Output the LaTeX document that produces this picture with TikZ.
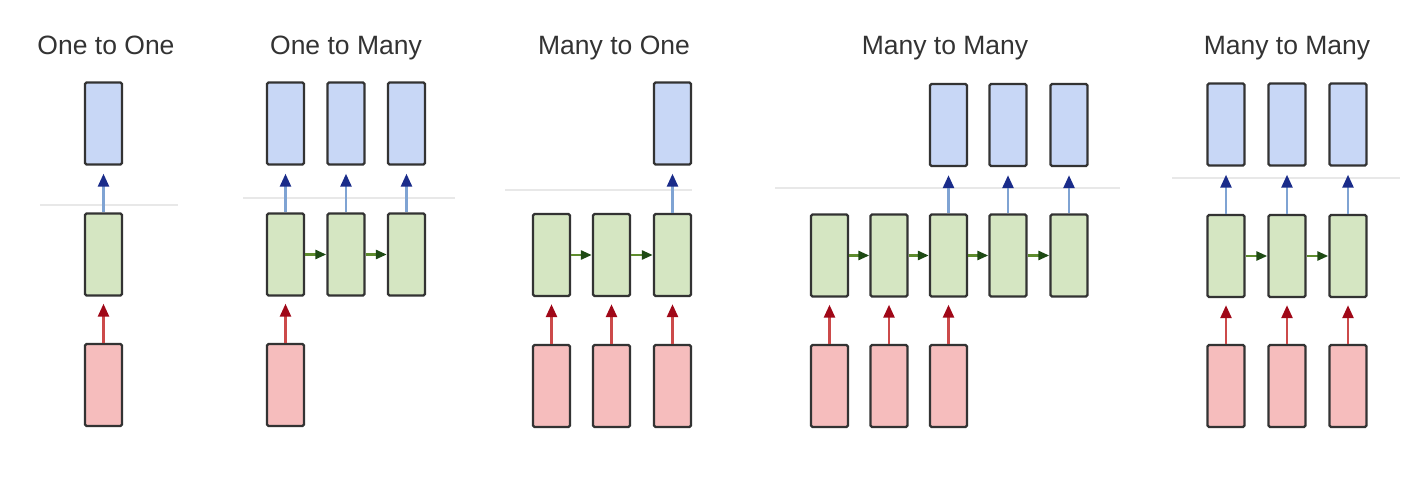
\documentclass[tikz,border=0pt]{standalone}
\usepackage{fontspec}
\setmainfont{Liberation Sans}
\usetikzlibrary{arrows.meta}
\definecolor{bfill}{HTML}{C8D7F6}
\definecolor{gfill}{HTML}{D5E6C2}
\definecolor{rfill}{HTML}{F6BDBD}
\definecolor{bline}{HTML}{7FA3D3}
\definecolor{bhead}{HTML}{1A2C8A}
\definecolor{rline}{HTML}{CC4A4A}
\definecolor{rhead}{HTML}{A00818}
\definecolor{gline}{HTML}{5E8C2E}
\definecolor{ghead}{HTML}{1E4A14}
\definecolor{tcol}{HTML}{333333}
\tikzset{
  cell/.style={draw=black!80, line width=2.4pt, rounded corners=1.5pt,
    minimum width=37pt, minimum height=82pt, inner sep=0pt},
  outbox/.style={cell, fill=bfill},
  hidbox/.style={cell, fill=gfill},
  inbox/.style={cell, fill=rfill},
  outarrow/.style={draw=bline, line width=2.6pt, shorten >=8pt,
    -{Triangle[length=13pt,width=11pt,color=bhead]}},
  inarrow/.style={draw=rline, line width=2.6pt, shorten >=7pt,
    -{Triangle[length=13pt,width=11pt,color=rhead]}},
  recarrow/.style={draw=gline, line width=2.6pt,
    -{Triangle[length=11pt,width=9pt,color=ghead]}},
  title/.style={font=\fontsize{26.5pt}{30pt}\selectfont, text=tcol, inner sep=0pt, anchor=base},
  faint/.style={draw=black!9, line width=1.2pt}
}
\begin{document}
\begin{tikzpicture}[x=1pt,y=-1pt]
\useasboundingbox (0,0) rectangle (1421,479);
% faint scan lines
\draw[faint] (40,205) -- (178,205);
\draw[faint] (243,198) -- (455,198);
\draw[faint] (505,190) -- (692,190);
\draw[faint] (775,188) -- (1120,188);
\draw[faint] (1172,178) -- (1400,178);
% titles
\node[title] (t1) at (106,54) {One to One};
\node[title] (t2) at (346,54) {One to Many};
\node[title] (t3) at (614,54) {Many to One};
\node[title] (t4) at (945,54) {Many to Many};
\node[title] (t5) at (1287,54) {Many to Many};
% panel 1
\node[outbox] (p1o1) at (103.5,123.5) {};
\node[hidbox] (p1h1) at (103.5,254.5) {};
\node[inbox]  (p1i1) at (103.5,385) {};
\draw[outarrow] (p1h1.north) -- (p1o1.south);
\draw[inarrow] (p1i1.north) -- (p1h1.south);
% panel 2
\foreach \k/\x in {1/285.5,2/346,3/406.5}{
  \node[outbox] (p2o\k) at (\x,123.5) {};
  \node[hidbox] (p2h\k) at (\x,254.5) {};
  \draw[outarrow] (p2h\k.north) -- (p2o\k.south);
}
\node[inbox] (p2i1) at (285.5,385) {};
\draw[inarrow] (p2i1.north) -- (p2h1.south);
\draw[recarrow] (p2h1.east) -- (p2h2.west);
\draw[recarrow] (p2h2.east) -- (p2h3.west);
% panel 3
\foreach \k/\x in {1/551.5,2/611.5,3/672.5}{
  \node[hidbox] (p3h\k) at (\x,255) {};
  \node[inbox]  (p3i\k) at (\x,386) {};
  \draw[inarrow] (p3i\k.north) -- (p3h\k.south);
}
\node[outbox] (p3o3) at (672.5,123.5) {};
\draw[outarrow] (p3h3.north) -- (p3o3.south);
\draw[recarrow] (p3h1.east) -- (p3h2.west);
\draw[recarrow] (p3h2.east) -- (p3h3.west);
% panel 4
\foreach \k/\x in {1/829.5,2/889,3/948.5,4/1008,5/1069}{
  \node[hidbox] (p4h\k) at (\x,255.5) {};
}
\foreach \k/\x in {1/829.5,2/889,3/948.5}{
  \node[inbox] (p4i\k) at (\x,386) {};
  \draw[inarrow] (p4i\k.north) -- (p4h\k.south);
}
\foreach \k/\x in {3/948.5,4/1008,5/1069}{
  \node[outbox] (p4o\k) at (\x,125) {};
  \draw[outarrow] (p4h\k.north) -- (p4o\k.south);
}
\draw[recarrow] (p4h1.east) -- (p4h2.west);
\draw[recarrow] (p4h2.east) -- (p4h3.west);
\draw[recarrow] (p4h3.east) -- (p4h4.west);
\draw[recarrow] (p4h4.east) -- (p4h5.west);
% panel 5
\foreach \k/\x in {1/1226,2/1287,3/1348}{
  \node[outbox] (p5o\k) at (\x,124.5) {};
  \node[hidbox] (p5h\k) at (\x,256) {};
  \node[inbox]  (p5i\k) at (\x,386) {};
  \draw[outarrow] (p5h\k.north) -- (p5o\k.south);
  \draw[inarrow] (p5i\k.north) -- (p5h\k.south);
}
\draw[recarrow] (p5h1.east) -- (p5h2.west);
\draw[recarrow] (p5h2.east) -- (p5h3.west);
\end{tikzpicture}
\end{document}
